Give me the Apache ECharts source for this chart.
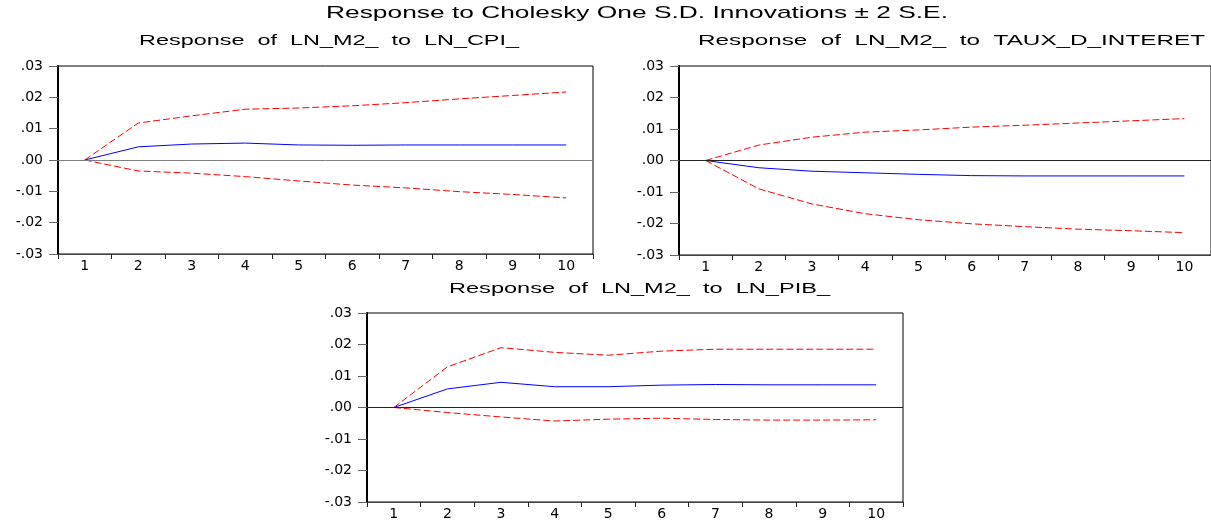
<!DOCTYPE html>
<html>
<head>
<meta charset="utf-8">
<script src="https://cdn.jsdelivr.net/npm/echarts@6/dist/echarts.min.js"></script>
<style>
html,body{margin:0;padding:0;background:#fff;}
#chart{width:1211px;height:526px;}
</style>
</head>
<body>
<div id="chart"></div>
<script>
// ---- data ----
const periods = ['1','2','3','4','5','6','7','8','9','10'];
const yTickLabels = ['-.03','-.02','-.01','.00','.01','.02','.03'];

const mainTitle = 'Response to Cholesky One S.D. Innovations \u00B1 2 S.E.';
const panelTitles = [
  'Response  of  LN_M2_  to  LN_CPI_',
  'Response  of  LN_M2_  to  TAUX_D_INTERET',
  'Response  of  LN_M2_  to  LN_PIB_'
];

const cpiResp  = [0, 0.0042, 0.0051, 0.0054, 0.0048, 0.0047, 0.0048, 0.0048, 0.0048, 0.0048];
const cpiUpper = [0, 0.0118, 0.0141, 0.0162, 0.0166, 0.0173, 0.0183, 0.0195, 0.0206, 0.0217];
const cpiLower = [0, -0.0035, -0.0042, -0.0053, -0.0067, -0.0080, -0.0089, -0.0101, -0.0110, -0.0121];

const tauxResp  = [0, -0.0023, -0.0034, -0.0039, -0.0044, -0.0048, -0.0049, -0.0049, -0.0049, -0.0049];
const tauxUpper = [0, 0.0049, 0.0074, 0.0090, 0.0097, 0.0106, 0.0112, 0.0119, 0.0126, 0.0133];
const tauxLower = [0, -0.0090, -0.0138, -0.0169, -0.0188, -0.0201, -0.0210, -0.0218, -0.0223, -0.0229];

const pibResp  = [0, 0.0059, 0.0080, 0.0066, 0.0066, 0.0071, 0.0073, 0.0072, 0.0072, 0.0072];
const pibUpper = [0, 0.0129, 0.0190, 0.0175, 0.0166, 0.0179, 0.0185, 0.0185, 0.0185, 0.0185];
const pibLower = [0, -0.0016, -0.0030, -0.0043, -0.0037, -0.0034, -0.0038, -0.0040, -0.0040, -0.0039];

// ---- layout ----
const panels = [
  {grid:{left:58, top:66, width:535, height:188}, resp:cpiResp, up:cpiUpper, lo:cpiLower, zero:'#808080',
   title:{left:139, width:380, cy:41}},
  {grid:{left:679, top:66, width:535, height:189}, resp:tauxResp, up:tauxUpper, lo:tauxLower, zero:'#222',
   title:{left:698, width:507, cy:41}},
  {grid:{left:367, top:313, width:536, height:189}, resp:pibResp, up:pibUpper, lo:pibLower, zero:'#222',
   title:{left:449, width:381, cy:289}}
];

const FONT_FAMILY = "'Liberation Sans', Arial, sans-serif";
const AXIS_FONT = "'DejaVu Sans', sans-serif";
const measureCtx = document.createElement('canvas').getContext('2d');
function fitText(str, size, left, width, cy) {
  const font = size + 'px ' + FONT_FAMILY;
  measureCtx.font = font;
  const w = measureCtx.measureText(str).width;
  return {
    type: 'text', x: left, y: cy, scaleX: width / w, silent: true,
    style: {text: str, font: font, fill: '#000', align: 'left', verticalAlign: 'middle',
            textAlign: 'left', textVerticalAlign: 'middle'}
  };
}

const grids = [], xAxes = [], yAxes = [], series = [], graphics = [];
graphics.push(fitText(mainTitle, 17, 326, 622, 13));

panels.forEach((p, i) => {
  grids.push(Object.assign({show:true, borderColor:'#000', borderWidth:1, backgroundColor:'transparent'}, p.grid));
  xAxes.push({
    type:'category', gridIndex:i, data:periods, boundaryGap:true,
    axisLine:{show:true, onZero:false, lineStyle:{color:'#444', width:1}},
    axisTick:{show:true, length:5, inside:false, lineStyle:{color:'#222'}},
    axisLabel:{color:'#000', fontSize:14, fontFamily:AXIS_FONT, margin:5},
    splitLine:{show:false}
  });
  yAxes.push({
    type:'value', gridIndex:i, min:-0.03, max:0.03, interval:0.01,
    axisLine:{show:true, onZero:false, lineStyle:{color:'#000', width:2}},
    axisTick:{show:true, length:9, inside:false, lineStyle:{color:'#666'}},
    axisLabel:{color:'#000', fontSize:14, fontFamily:AXIS_FONT, margin:15,
      formatter: v => yTickLabels[Math.round((v + 0.03) / 0.01)]},
    splitLine:{show:false}
  });
  series.push({
    type:'line', xAxisIndex:i, yAxisIndex:i, data:p.resp, symbol:'none',
    lineStyle:{color:'#0000ff', width:1}, z:3,
    markLine:{silent:true, symbol:['none','none'], label:{show:false},
      lineStyle:{color:p.zero, type:'solid', width:1}, data:[{yAxis:0}], animation:false}
  });
  series.push({
    type:'line', xAxisIndex:i, yAxisIndex:i, data:p.up, symbol:'none',
    lineStyle:{color:'#ff0000', width:1, type:[7,3]}, z:3
  });
  series.push({
    type:'line', xAxisIndex:i, yAxisIndex:i, data:p.lo, symbol:'none',
    lineStyle:{color:'#ff0000', width:1, type:[7,3]}, z:3
  });
  graphics.push(fitText(panelTitles[i], 14, p.title.left, p.title.width, p.title.cy));
});

const chart = echarts.init(document.getElementById('chart'), null, {renderer:'canvas'});
chart.setOption({
  animation:false,
  backgroundColor:'#fff',
  grid:grids, xAxis:xAxes, yAxis:yAxes, series:series, graphic:graphics
});
</script>
</body>
</html>
